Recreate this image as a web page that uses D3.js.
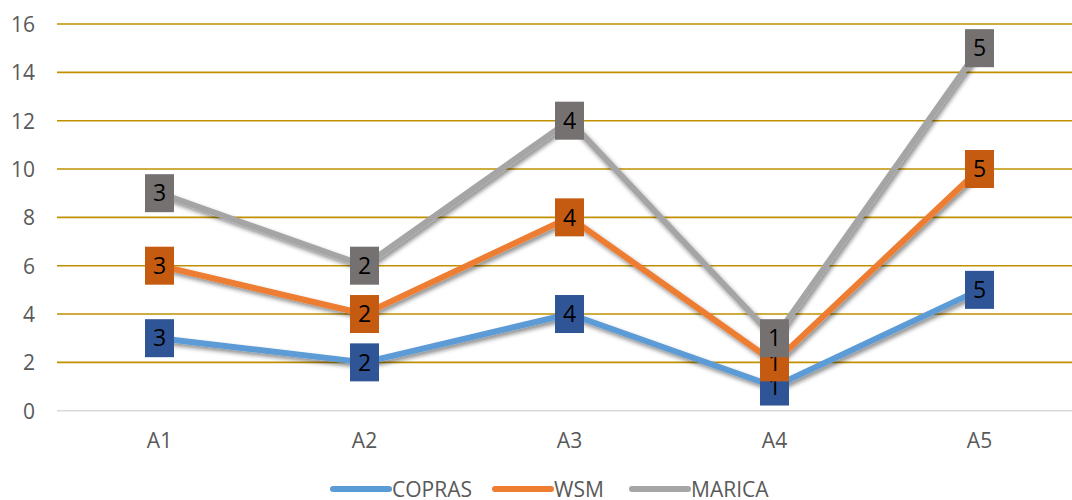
<!DOCTYPE html>
<html><head><meta charset="utf-8">
<script src="https://cdn.jsdelivr.net/npm/d3@7"></script>
<style>html,body{margin:0;padding:0;background:#fff;}svg{display:block;font-family:"Open Sans",sans-serif;}</style>
</head><body>
<svg id="c" width="1072" height="500"></svg>
<script>
const categories = ["A1","A2","A3","A4","A5"];
const seriesNames = ["COPRAS","WSM","MARICA"];
const copras = [3,2,4,1,5];
const wsm = [3,2,4,1,5];
const marica = [3,2,4,1,5];
const yTicks = [0,2,4,6,8,10,12,14,16];
const lineColors = ["#5B9BD5","#ED7D31","#A5A5A5"];
const boxColors = ["#2F5597","#C55A11","#767171"];

const svg = d3.select("#c");
const pLeft = 57, pRight = 1082, pTop = 24, pBottom = 410.7;
const x = d3.scaleBand().domain(categories).range([pLeft,pRight]);
const y = d3.scaleLinear().domain([0,16]).range([pBottom,pTop]);

const defs = svg.append("defs");
const f = defs.append("filter").attr("id","sh").attr("x","-20%").attr("y","-20%").attr("width","140%").attr("height","140%");
f.append("feDropShadow").attr("dx",2).attr("dy",3).attr("stdDeviation",2).attr("flood-color","#000").attr("flood-opacity",0.45);

// gridlines
svg.append("g").selectAll("line").data(yTicks).join("line")
  .attr("x1",pLeft).attr("x2",pRight)
  .attr("y1",d=>y(d)).attr("y2",d=>y(d))
  .attr("stroke",d=>d===0?"#D9D9D9":"#BF9000").attr("stroke-width",d=>d===0?1.5:1.6);

// y axis labels
const ya = svg.append("g").attr("transform",`translate(${pLeft-22},0)`)
  .call(d3.axisLeft(y).tickValues(yTicks).tickSize(0).tickPadding(0));
ya.select(".domain").remove();
ya.selectAll("text").attr("fill","#595959").style("font-size","21px").style("font-family","'Open Sans',sans-serif").attr("dy","0.36em");

// x axis labels
const xa = svg.append("g").attr("transform",`translate(0,${pBottom+22})`)
  .call(d3.axisBottom(x).tickSize(0).tickPadding(0));
xa.select(".domain").remove();
xa.selectAll("text").attr("fill","#595959").style("font-size","21px").style("font-family","'Open Sans',sans-serif").attr("dy","0.75em");

// stacked data
const raw = [copras,wsm,marica];
const stacked = [];
let acc = categories.map(()=>0);
raw.forEach(s=>{ acc = acc.map((a,i)=>a+s[i]); stacked.push(acc.slice()); });

const line = d3.line().x((d,i)=>x(categories[i])+x.bandwidth()/2).y(d=>y(d));
svg.append("g").selectAll("path").data(stacked).join("path")
  .attr("d",d=>line(d)).attr("fill","none")
  .attr("stroke",(d,i)=>lineColors[i]).attr("stroke-width",6)
  .attr("stroke-linejoin","round").attr("filter","url(#sh)");

// labels
const bw=29, bh=38;
stacked.forEach((s,si)=>{
  const g = svg.append("g");
  s.forEach((v,i)=>{
    const cx = x(categories[i])+x.bandwidth()/2, cy=y(v);
    g.append("rect").attr("x",cx-bw/2).attr("y",cy-bh/2).attr("width",bw).attr("height",bh).attr("fill",boxColors[si]);
    g.append("text").attr("x",cx).attr("y",cy).attr("text-anchor","middle").attr("dy","0.36em")
      .style("font-size","23px").attr("fill","#000").text(raw[si][i]);
  });
});

// legend
const legX = [333,495,632];
const lg = svg.append("g");
seriesNames.forEach((n,i)=>{
  lg.append("line").attr("x1",legX[i]).attr("x2",legX[i]+56).attr("y1",489).attr("y2",489)
    .attr("stroke",lineColors[i]).attr("stroke-width",6).attr("stroke-linecap","round");
  lg.append("text").attr("x",legX[i]+59).attr("y",489).attr("dy","0.36em")
    .attr("fill","#595959").style("font-size","21px").text(n);
});
</script>
</body></html>
